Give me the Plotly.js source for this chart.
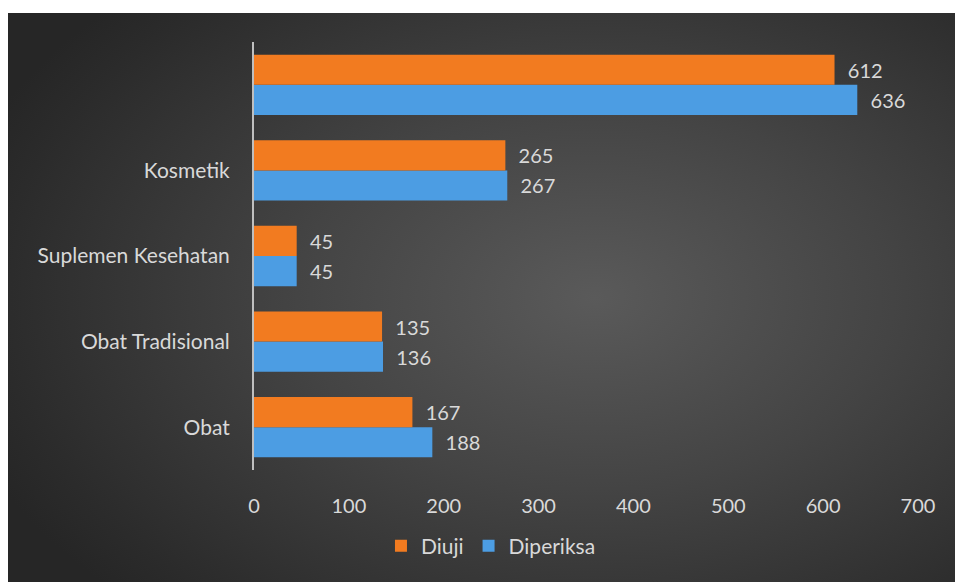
<!DOCTYPE html>
<html>
<head>
<meta charset="utf-8">
<script src="https://cdn.plot.ly/plotly-3.0.1.min.js"></script>
<style>
  html, body { margin: 0; padding: 0; background: #ffffff; width: 955px; height: 582px; overflow: hidden; }
  #chart {
    position: absolute; left: 8px; top: 13px; width: 947px; height: 569px;
    background: radial-gradient(ellipse 70% 75% at 62% 50%, #5a5a5a 0%, #444444 45%, #2b2b2b 90%, #262626 100%);
  }
</style>
</head>
<body>
<div id="chart"></div>
<script>
const categories = ['Obat', 'Obat Tradisional', 'Suplemen Kesehatan', 'Kosmetik', 'Pangan'];
const tickLabels = ['Obat', 'Obat Tradisional', 'Suplemen Kesehatan', 'Kosmetik', ''];
const diuji = [167, 135, 45, 265, 612];
const diperiksa = [188, 136, 45, 267, 636];
const xTicks = [0, 100, 200, 300, 400, 500, 600, 700];

const FONT = 'Lato, "Open Sans", sans-serif';
const TXT = '#d9d9d9';
const PAD = '\u00a0\u00a0';

const traces = [
  {
    type: 'bar', orientation: 'h', name: 'Diperiksa',
    y: categories, x: diperiksa,
    marker: { color: '#4c9de3' },
    text: diperiksa.map(v => PAD + v), textposition: 'outside',
    textfont: { color: TXT, size: 20, family: FONT },
    cliponaxis: false
  },
  {
    type: 'bar', orientation: 'h', name: 'Diuji',
    y: categories, x: diuji,
    marker: { color: '#f27b20' },
    text: diuji.map(v => PAD + v), textposition: 'outside',
    textfont: { color: TXT, size: 20, family: FONT },
    cliponaxis: false
  }
];

const layout = {
  width: 947, height: 569,
  paper_bgcolor: 'rgba(0,0,0,0)',
  plot_bgcolor: 'rgba(0,0,0,0)',
  margin: { l: 246, r: 37, t: 29, b: 112 },
  barmode: 'group',
  bargap: 0.295,
  bargroupgap: 0,
  font: { family: FONT, color: TXT, size: 20 },
  xaxis: {
    range: [0, 700],
    tickvals: xTicks,
    ticktext: xTicks.map(String),
    showgrid: false, zeroline: false, showline: false,
    tickfont: { color: TXT, size: 20, family: FONT },
    ticks: '', ticklen: 0, ticklabelstandoff: 22,
    automargin: false
  },
  yaxis: {
    type: 'category',
    categoryorder: 'array', categoryarray: categories,
    tickvals: categories, ticktext: tickLabels,
    showgrid: false, zeroline: false,
    showline: true, linecolor: '#bfbfbf', linewidth: 2,
    ticks: '', ticklabelstandoff: 18,
    tickfont: { color: TXT, size: 21, family: FONT },
    automargin: false
  },
  showlegend: true,
  legend: {
    orientation: 'h', traceorder: 'reversed',
    xref: 'container', yref: 'container',
    x: 0.51, xanchor: 'center', y: 0.063, yanchor: 'middle',
    font: { color: TXT, size: 21, family: FONT },
    itemwidth: 30, itemsizing: 'constant',
    bgcolor: 'rgba(0,0,0,0)'
  }
};

Plotly.newPlot('chart', traces, layout, { displayModeBar: false, staticPlot: true });
</script>
</body>
</html>
